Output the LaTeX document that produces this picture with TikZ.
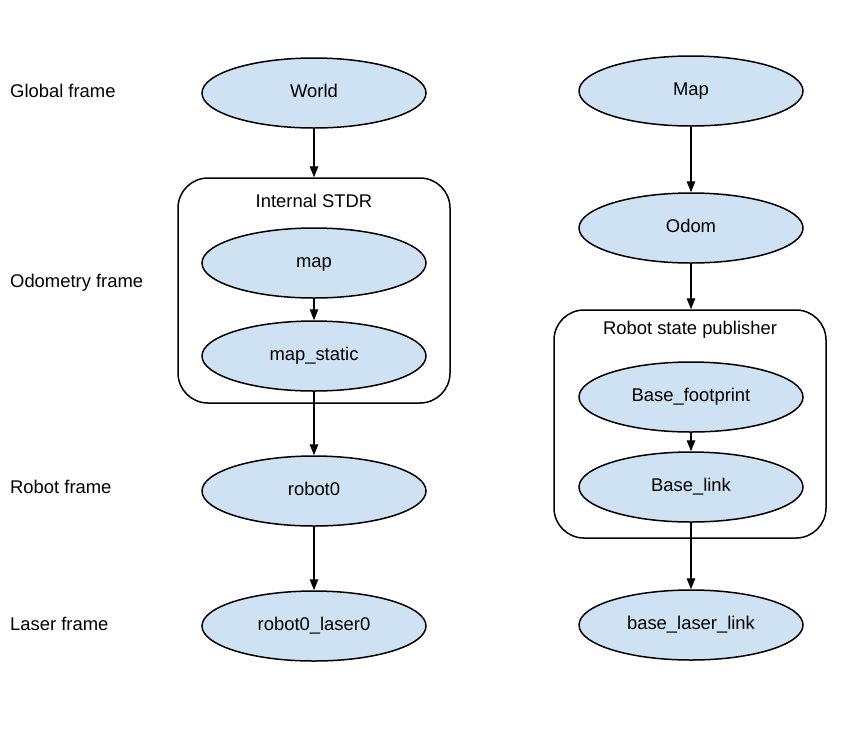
\documentclass[tikz,border=0pt]{standalone}
\usepackage{fontspec}
\setmainfont{Liberation Sans}
\usetikzlibrary{shapes.geometric,arrows.meta}
\definecolor{nodeblue}{HTML}{CFE2F3}
\tikzset{
  frame/.style={ellipse, draw=black, line width=1.5pt, fill=nodeblue, inner sep=0pt,
    minimum width=224pt, minimum height=70pt, text height=13.2pt, text depth=3.8pt,
    font=\fontsize{18.4}{21}\selectfont},
  grp/.style={draw=black, line width=1.5pt, rounded corners=30pt, inner sep=0pt, fill=none},
  lbl/.style={anchor=base west, inner sep=0pt, font=\fontsize{18.4}{21}\selectfont},
  ttl/.style={inner sep=0pt, text height=13.2pt, text depth=3.8pt, font=\fontsize{18.4}{21}\selectfont},
  link/.style={line width=1.4pt, -{Triangle[length=11pt,width=8.5pt]}}
}
\begin{document}
\begin{tikzpicture}[x=1pt,y=-1pt]
\useasboundingbox (0,0) rectangle (842,732);
% row labels
\node[lbl] (lg) at (10,97) {Global frame};
\node[lbl] (lo) at (10,287) {Odometry frame};
\node[lbl] (lr) at (10,493) {Robot frame};
\node[lbl] (ll) at (10,630) {Laser frame};
% group boxes
\node[grp, minimum width=272pt, minimum height=225pt] (stdr) at (314,290.5) {};
\node[ttl] (stdrt) at (314,203) {Internal STDR};
\node[grp, minimum width=272pt, minimum height=228pt] (rsp) at (690,424) {};
\node[ttl] (rspt) at (690,330) {Robot state publisher};
% left column
\node[frame] (world) at (314,93) {World};
\node[frame] (map) at (314,263) {map};
\node[frame] (mapst) at (314,356) {map\_static};
\node[frame] (robot) at (314,491) {robot0};
\node[frame] (laser) at (314,626) {robot0\_laser0};
% right column
\node[frame] (Map) at (691,91) {Map};
\node[frame] (odom) at (691,228) {Odom};
\node[frame] (foot) at (691,397) {Base\_footprint};
\node[frame] (base) at (691,487) {Base\_link};
\node[frame] (blaser) at (691,625) {base\_laser\_link};
% connectors
\draw[link] (world.south) -- (stdr.north);
\draw[link] (map.south) -- (mapst.north);
\draw[link] (mapst.south) -- (robot.north);
\draw[link] (robot.south) -- (laser.north);
\draw[link] (Map.south) -- (odom.north);
\draw[link] (odom.south) -- (odom.south |- rsp.north);
\draw[link] (foot.south) -- (base.north);
\draw[link] (base.south) -- (blaser.north);
\end{tikzpicture}
\end{document}
